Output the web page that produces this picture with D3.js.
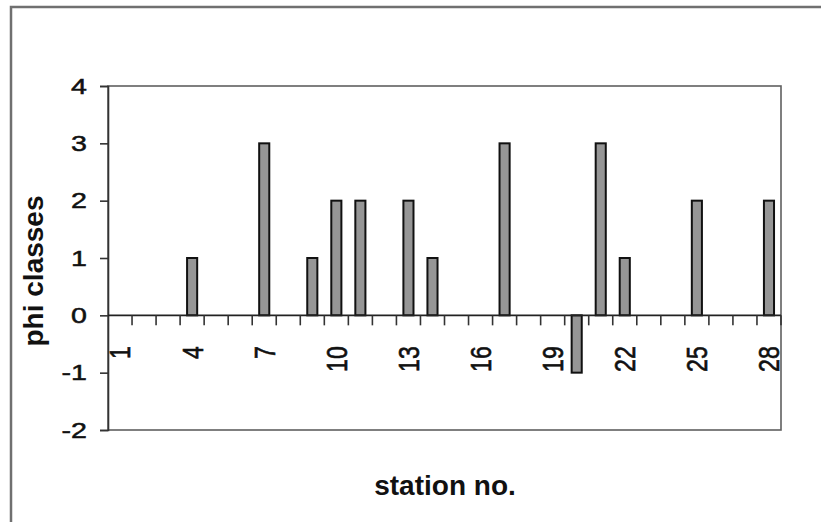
<!DOCTYPE html>
<html>
<head>
<meta charset="utf-8">
<script src="https://cdn.jsdelivr.net/npm/d3@7/dist/d3.min.js"></script>
<style>
  html, body { margin: 0; padding: 0; background: #fff; }
  svg { display: block; }
</style>
</head>
<body>
<svg id="chart" width="821" height="522"></svg>
<script>
const stations = d3.range(1, 29);
const stationValues = [0,0,0,1,0,0,3,0,1,2,2,0,2,1,0,0,3,0,0,-1,3,1,0,0,2,0,0,2];
const xTickLabels = [1,4,7,10,13,16,19,22,25,28];
const yTicks = [-2,-1,0,1,2,3,4];
const xTitle = "station no.";
const yTitle = "phi classes";

(function () {
const data = stations.map((s, i) => ({station: s, value: stationValues[i]}));

const W = 821, H = 522;
const pL = 108, pR = 781, pT = 86, pB = 430;
const FONT = "Liberation Sans, Arial, sans-serif";
const TICK_FS = 22;
const STRETCH = 1.3;

const svg = d3.select("#chart");
svg.append("rect").attr("width", W).attr("height", H).attr("fill", "#fff");

// outer chart border (left + top visible)
svg.append("path")
  .attr("d", `M11,${H} L11,7 L${W},7`)
  .attr("fill", "none").attr("stroke", "#707070").attr("stroke-width", 2.5);

const x = d3.scaleBand().domain(stations).range([pL, pR])
  .paddingInner(0.58).paddingOuter(0.29);
const y = d3.scaleLinear().domain([-2, 4]).range([pB, pT]);

// plot area border
svg.append("rect")
  .attr("x", pL).attr("y", pT)
  .attr("width", pR - pL).attr("height", pB - pT)
  .attr("fill", "none").attr("stroke", "#606060").attr("stroke-width", 1.6);

// bars
svg.append("g").selectAll("rect").data(data.filter(d => d.value !== 0)).join("rect")
  .attr("x", d => x(d.station))
  .attr("width", x.bandwidth())
  .attr("y", d => y(Math.max(0, d.value)))
  .attr("height", d => Math.abs(y(d.value) - y(0)))
  .attr("fill", "#969696").attr("stroke", "#111").attr("stroke-width", 2);

// y axis
const yAxis = d3.axisLeft(y).tickValues(yTicks).tickSize(8).tickPadding(13).tickFormat(d => String(d));
const gy = svg.append("g").attr("transform", `translate(${pL},0)`).call(yAxis);
gy.select(".domain").attr("stroke", "#333").attr("stroke-width", 1.6);
gy.selectAll(".tick line").attr("stroke", "#333").attr("stroke-width", 1.6);
gy.selectAll(".tick text").attr("font-family", FONT)
  .attr("font-size", TICK_FS).attr("fill", "#111")
  .attr("stroke", "#111").attr("stroke-width", 0.5)
  .attr("x", 0).attr("transform", `translate(-21,0) scale(${STRETCH},1)`);

// x axis along zero line, ticks at category boundaries
const step = x.step();
const boundaries = d3.range(1, stations.length + 1).map(k => pL + k * step);
const gx = svg.append("g");
gx.append("line").attr("x1", pL).attr("x2", pR).attr("y1", y(0)).attr("y2", y(0))
  .attr("stroke", "#222").attr("stroke-width", 1.6);
gx.selectAll("line.tk").data(boundaries).join("line").attr("class", "tk")
  .attr("x1", d => d).attr("x2", d => d)
  .attr("y1", y(0)).attr("y2", y(0) + 10)
  .attr("stroke", "#333").attr("stroke-width", 1.6);
gx.selectAll("text").data(xTickLabels).join("text")
  .attr("transform", d => `translate(${x(d) + x.bandwidth() / 2},${y(0) + 31}) scale(${STRETCH},1) rotate(-90)`)
  .attr("text-anchor", "end").attr("dy", "0.35em")
  .attr("font-family", FONT).attr("font-size", TICK_FS + 1)
  .attr("fill", "#111").attr("stroke", "#111").attr("stroke-width", 0.5)
  .text(d => d);

// titles
svg.append("text")
  .attr("x", 445).attr("y", 495).attr("text-anchor", "middle")
  .attr("font-family", FONT).attr("font-weight", "bold")
  .attr("font-size", 28).attr("fill", "#111").text(xTitle);

svg.append("text")
  .attr("transform", `translate(43,271) rotate(-90)`).attr("text-anchor", "middle")
  .attr("font-family", FONT).attr("font-weight", "bold")
  .attr("font-size", 28).attr("fill", "#111").text(yTitle);
})();
</script>
</body>
</html>
